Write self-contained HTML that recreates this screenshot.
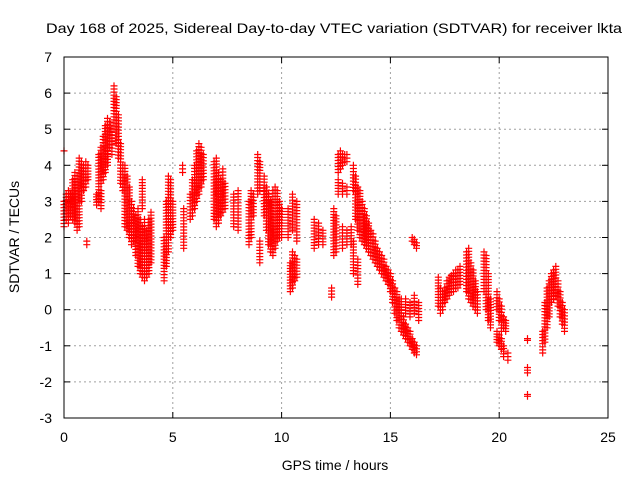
<!DOCTYPE html>
<html><head><meta charset="utf-8">
<style>
html,body{margin:0;padding:0;background:#fff;}
svg{display:block;font-family:"Liberation Sans",sans-serif;}
</style></head>
<body>
<svg id="chart" width="640" height="480" viewBox="0 0 640 480" xmlns="http://www.w3.org/2000/svg">
<rect width="640" height="480" fill="#fff"/>
<text x="46" y="33" font-size="14" textLength="576" lengthAdjust="spacingAndGlyphs">Day 168 of 2025, Sidereal Day-to-day VTEC variation (SDTVAR) for receiver lkta</text>
<text transform="translate(19,237) rotate(-90)" font-size="14" text-anchor="middle">SDTVAR / TECUs</text>
<text x="335" y="470" font-size="14" text-anchor="middle">GPS time / hours</text>
<g id="grid"></g>
<g id="ticks"></g>
<g id="marks" stroke="#f00" stroke-width="1.2"></g>
<rect x="64" y="57" width="544" height="361" fill="none" stroke="#000" stroke-width="1"/>
</svg>
<script>
const xTicks = [0,5,10,15,20,25];
const yTicks = [-3,-2,-1,0,1,2,3,4,5,6,7];
// columns of samples: time (hours), lowest and highest SDTVAR value observed in that column
const times = [0.0,0.0,0.1,0.2,0.3,0.4,0.5,0.6,0.7,0.8,0.9,1.05,1.0,1.1,1.5,1.6,1.7,1.7,1.8,1.9,2.0,2.1,2.2,2.3,2.4,2.5,2.6,2.7,2.8,2.9,3.0,3.1,3.2,3.3,3.4,3.5,3.6,3.7,3.8,3.9,4.0,3.6,
4.6,4.7,4.8,4.9,5.0,5.5,5.45,5.8,5.9,6.0,6.1,6.2,6.3,6.4,6.9,7.0,7.1,7.2,7.3,7.4,7.8,8.0,8.5,8.6,8.7,8.9,9.0,9.0,
9.2,9.3,9.4,9.5,9.6,9.7,9.8,9.9,10.0,10.3,10.5,10.7,10.4,10.5,10.6,10.7,11.5,11.7,11.9,12.3,12.4,12.5,
12.6,12.7,12.8,12.9,13.0,12.6,12.8,13.0,12.8,13.0,13.2,13.3,13.5,
13.3,13.4,13.5,13.6,13.7,13.8,13.9,14.0,14.1,14.2,14.3,14.4,14.5,14.6,14.7,14.8,14.9,15.0,15.1,15.2,15.3,15.4,15.5,15.6,15.7,15.8,15.9,16.0,16.1,16.2,
15.3,15.5,15.7,15.9,16.1,16.3,16.0,16.1,16.2,
17.2,17.3,17.4,17.5,17.6,17.7,17.8,17.9,18.0,18.1,18.2,18.5,18.6,18.7,18.8,18.9,19.0,19.3,19.4,19.5,19.6,
19.9,20.0,20.1,20.2,20.3,19.9,20.0,20.1,20.2,20.4,21.3,21.3,21.3,
22.0,22.1,22.2,22.3,22.4,22.5,22.6,22.7,22.8,22.9,23.0];
const lows = [2.3,4.4,2.5,2.4,2.6,2.5,2.4,2.2,2.3,3.0,3.3,1.8,3.4,3.6,2.9,3.0,3.5,2.8,3.6,3.8,4.0,4.5,4.3,5.0,4.6,4.2,3.5,3.3,2.3,2.2,2.0,1.8,1.9,1.5,1.2,1.0,0.9,0.8,0.9,1.0,1.3,2.8,
0.8,1.2,1.6,2.0,2.2,1.7,3.8,2.5,2.6,2.8,3.0,3.2,3.4,3.6,2.5,2.3,2.4,2.6,2.7,2.8,2.3,2.2,1.8,2.0,2.6,3.2,3.3,1.3,
2.6,2.2,1.8,1.6,1.5,1.7,1.9,2.0,2.0,2.0,2.2,1.9,0.5,0.6,0.8,0.9,1.7,1.8,1.8,0.35,1.5,1.6,
3.8,3.9,4.0,4.1,4.1,3.2,3.2,3.2,1.7,1.8,1.8,1.0,0.7,
3.3,2.5,2.2,2.0,1.9,1.8,1.7,1.6,1.5,1.4,1.3,1.2,1.1,1.0,0.9,0.8,0.7,0.5,0.2,-0.1,-0.3,-0.5,-0.6,-0.7,-0.8,-0.9,-1.0,-1.1,-1.2,-1.25,
0.0,0.0,-0.1,-0.2,-0.1,-0.3,1.9,1.8,1.7,
0.1,-0.1,0.0,0.2,0.3,0.4,0.5,0.5,0.6,0.6,0.7,0.5,0.3,0.2,0.1,0.0,-0.1,0.5,0.0,-0.3,-0.5,
0.0,-0.3,-0.6,-0.5,-0.6,-0.9,-1.0,-1.1,-1.3,-1.4,-0.85,-1.75,-2.4,
-1.2,-0.9,-0.5,-0.2,0.2,0.3,0.4,0.1,-0.2,-0.4,-0.6];
const highs = [3.0,4.4,3.2,3.3,3.2,3.6,3.8,3.7,4.2,4.1,4.0,1.9,4.1,4.0,3.2,4.3,4.5,3.3,4.8,5.1,5.3,5.2,5.0,6.2,5.9,5.4,4.6,4.0,4.0,3.7,3.4,3.0,2.8,2.6,2.8,2.5,2.3,2.5,2.2,2.5,2.7,3.6,
2.0,3.0,3.7,3.6,3.0,2.8,4.0,3.2,3.6,4.0,4.4,4.6,4.5,4.3,4.1,4.2,3.8,3.6,3.9,3.5,3.2,3.3,3.0,3.3,3.2,4.3,4.1,1.9,
3.7,3.4,3.2,3.0,3.3,3.4,3.3,3.0,2.8,2.8,3.2,3.0,1.3,1.6,1.5,1.4,2.5,2.4,2.2,0.6,2.8,2.6,
4.3,4.4,4.3,4.3,4.3,3.6,3.5,3.4,2.3,2.2,2.3,1.9,1.4,
4.0,3.7,3.4,3.3,3.0,2.8,2.6,2.4,2.2,2.1,1.9,1.7,1.6,1.5,1.4,1.2,1.1,1.0,0.8,0.6,0.5,0.3,0.0,-0.2,-0.4,-0.5,-0.6,-0.8,-0.9,-1.0,
0.35,0.3,0.3,0.2,0.4,0.2,2.0,1.95,1.85,
0.9,0.6,0.5,0.6,0.8,0.9,0.95,1.0,1.1,1.1,1.2,1.6,1.7,1.3,1.1,0.8,0.5,1.6,1.5,1.0,0.3,
0.5,0.3,0.1,-0.2,-0.3,-0.6,-0.7,-0.8,-1.0,-1.2,-0.8,-1.6,-2.35,
-0.6,0.2,0.6,0.8,1.0,1.1,1.2,0.8,0.5,0.2,0.0];

const X0=64, X1=608, Y0=418, Y1=57;
function xScale(t){return X0+(t-0)/(25-0)*(X1-X0);}
function yScale(v){return Y0-(v-(-3))/(7-(-3))*(Y0-Y1);}
const NS='http://www.w3.org/2000/svg';
const grid=document.getElementById('grid'), ticks=document.getElementById('ticks'), marks=document.getElementById('marks');
function mk(tag,attrs,parent){const e=document.createElementNS(NS,tag);for(const k in attrs)e.setAttribute(k,attrs[k]);parent.appendChild(e);return e;}
xTicks.forEach(t=>{
  const x=xScale(t);
  if(t>0&&t<25){const g=mk('line',{x1:x,x2:x,y1:Y1,y2:Y0,stroke:'#a0a0a0','stroke-dasharray':'2,3','stroke-width':1},grid);
  
  }
  mk('line',{x1:x,x2:x,y1:Y0,y2:Y0-6,stroke:'#000'},ticks);
  mk('line',{x1:x,x2:x,y1:Y1,y2:Y1+6,stroke:'#000'},ticks);
  const l=mk('text',{x:x,y:442,'font-size':14,'text-anchor':'middle'},ticks);l.textContent=t;
  
  
});
yTicks.forEach(v=>{
  const y=yScale(v);
  if(v>-3&&v<7){const g=mk('line',{x1:X0,x2:X1,y1:y,y2:y,stroke:'#a0a0a0','stroke-dasharray':'2,3','stroke-width':1},grid);
  
  }
  mk('line',{x1:X0,x2:X0+6,y1:y,y2:y,stroke:'#000'},ticks);
  mk('line',{x1:X1,x2:X1-6,y1:y,y2:y,stroke:'#000'},ticks);
  const l=mk('text',{x:52,y:y+5,'font-size':14,'text-anchor':'end'},ticks);l.textContent=v;
  
  
});
let d='';
for(let i=0;i<times.length;i++){
  const x=xScale(times[i]);
  const ya=yScale(highs[i]), yb=yScale(lows[i]);
  const n=Math.max(1,Math.round((yb-ya)/3));
  for(let k=0;k<=n;k++){
    const y=n===0?ya:ya+(yb-ya)*k/n;
    d+=`M${(x-3.5).toFixed(1)} ${y.toFixed(1)}h7M${x.toFixed(1)} ${(y-3.5).toFixed(1)}v7`;
  }
}
const p=mk('path',{d:d,fill:'none'},marks);


</script>
</body></html>
